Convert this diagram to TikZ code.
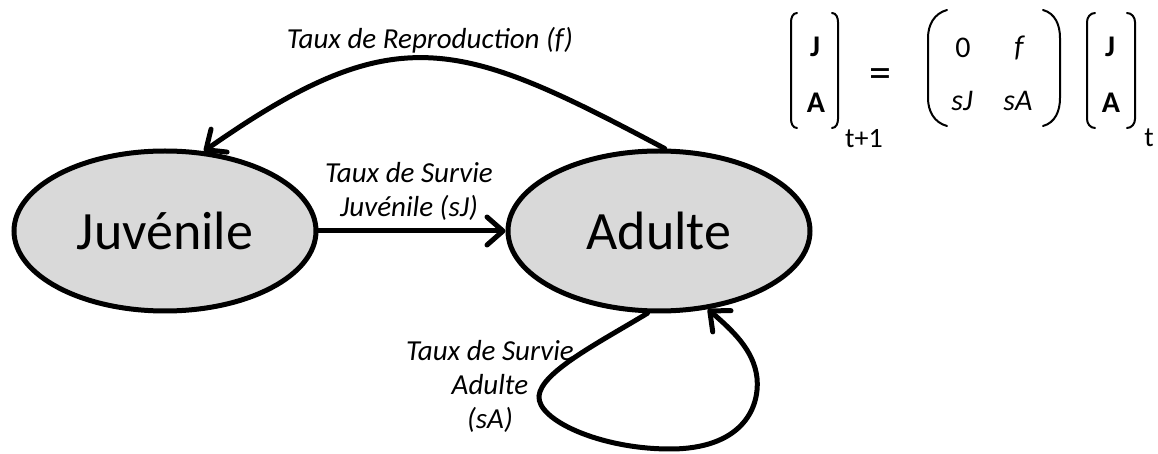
\documentclass[tikz,border=0pt]{standalone}
\usepackage{fontspec}
\setmainfont{Carlito}
\usetikzlibrary{shapes.geometric,arrows.meta}

\definecolor{stagegray}{RGB}{217,217,217}

\begin{document}
\begin{tikzpicture}[
    x=0.5pt, y=-0.5pt,
    stage/.style={ellipse, draw, line width=2.5pt, fill=stagegray, minimum width=151pt, minimum height=80pt, inner sep=0pt, font=\fontsize{27}{30}\selectfont},
    flow/.style={draw, line width=2.5pt, line cap=round, -{Straight Barb[length=8pt,width=14pt,line cap=round,line join=round]}},
    rate/.style={font=\fontsize{14.5}{17}\selectfont\itshape, align=center},
    entry/.style={font=\fontsize{15}{17}\selectfont, inner sep=0pt},
    brack/.style={draw, line width=1pt, line cap=round}
]
\useasboundingbox (0,0) rectangle (1158,454);

% Stages
\node[stage] (juv) at (165,231) {Juvénile};
\node[stage] (adu) at (659,231) {Adulte};

% Transitions
\draw[flow] (adu.86) to[out=152, in=35, looseness=1.3] (juv.64);
\draw[flow] (juv) -- (adu);
\draw[flow] (adu.262) .. controls (600,342) and (541,372) .. (539,396)
    .. controls (537,420) and (600,449) .. (670,449)
    .. controls (740,449) and (760,410) .. (757,378)
    .. controls (754,350) and (732,330) .. (adu.302);

% Rate labels
\node[rate] (lf) at (430,40) {Taux de Reproduction (f)};
\node[rate] (lsj) at (409,191) {Taux de Survie\\Juvénile (sJ)};
\node[rate] (lsa) at (490,386) {Taux de Survie\\Adulte\\(sA)};

% Matrix form
\node[entry] (j1) at (815,47) {\textbf{J}};
\node[entry] (a1) at (816,103) {\textbf{A}};
\node[entry, font=\fontsize{14}{16}\selectfont] (s1) at (864,139) {t+1};
\node[entry, font=\fontsize{22}{24}\selectfont] (eq) at (880,78) {=};
\node[entry] (m11) at (963,48) {0};
\node[entry] (m12) at (1019,48) {\itshape f};
\node[entry] (m21) at (962,101) {\itshape sJ};
\node[entry] (m22) at (1018,101) {\itshape sA};
\node[entry] (j2) at (1110,47) {\textbf{J}};
\node[entry] (a2) at (1111,103) {\textbf{A}};
\node[entry, font=\fontsize{14}{16}\selectfont] (s2) at (1149,138) {t};

\draw[brack] (797,13) to[out=180,in=90] (791,22) -- (791,119) to[out=270,in=180] (797,128);
\draw[brack] (832,13) to[out=0,in=90] (838,22) -- (838,119) to[out=270,in=0] (832,128);
\draw[brack] (947,10) to[out=195,in=90] (928,38) -- (928,98) to[out=270,in=165] (947,126);
\draw[brack] (1043,10) to[out=-15,in=90] (1060,38) -- (1060,98) to[out=270,in=15] (1043,126);
\draw[brack] (1095,13) to[out=180,in=90] (1087,22) -- (1087,119) to[out=270,in=180] (1095,128);
\draw[brack] (1127,13) to[out=0,in=90] (1135,22) -- (1135,119) to[out=270,in=0] (1127,128);

\end{tikzpicture}
\end{document}
